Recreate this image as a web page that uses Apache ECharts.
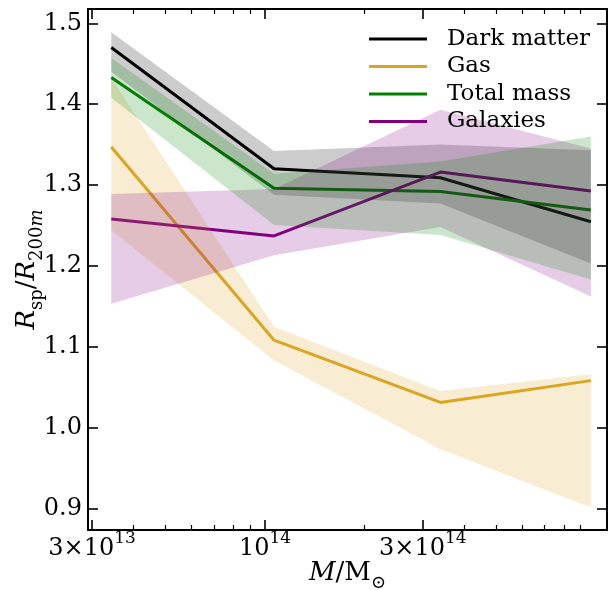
<!DOCTYPE html>
<html><head><meta charset="utf-8">
<script src="https://cdn.jsdelivr.net/npm/echarts@6/dist/echarts.min.js"></script>
<style>html,body{margin:0;padding:0;background:#fff}#chart{width:612px;height:590px}</style>
</head><body><div id="chart"></div>
<script>
// ---- data ----
const massBins   = [3.43e13, 1.065e14, 3.39e14, 9.66e14];
const dmMedian   = [1.470, 1.320, 1.309, 1.2545];
const dmLow      = [1.440, 1.288, 1.277, 1.203];
const dmHigh     = [1.489, 1.342, 1.350, 1.343];
const gasMedian  = [1.347, 1.108, 1.031, 1.058];
const gasLow     = [1.244, 1.083, 0.973, 0.901];
const gasHigh    = [1.432, 1.1247, 1.045, 1.066];
const totMedian  = [1.433, 1.296, 1.292, 1.269];
const totLow     = [1.408, 1.2505, 1.238, 1.183];
const totHigh    = [1.457, 1.314, 1.329, 1.360];
const galMedian  = [1.258, 1.237, 1.316, 1.2925];
const galLow     = [1.153, 1.213, 1.248, 1.162];
const galHigh    = [1.289, 1.295, 1.393, 1.345];
const seriesNames = ['Dark matter', 'Gas', 'Total mass', 'Galaxies'];

const xMajorTicks  = [3e13, 1e14, 3e14];
const xMajorLabels = ['{b|3×10}{sup|13}', '{b|10}{sup|14}', '{b|3×10}{sup|14}'];
const xMinorTicks  = [4e13, 5e13, 6e13, 7e13, 8e13, 9e13, 2e14, 4e14, 5e14, 6e14, 7e14, 8e14, 9e14];
const yTicks       = [0.9, 1.0, 1.1, 1.2, 1.3, 1.4, 1.5];
const xRange = [2.917e13, 1.081e15];
const yRange = [0.8732, 1.5177];

// ---- build ----
const lg = Math.log10;
const FONT = 'DejaVu Serif';
const colors = ['#000000', '#DAA520', '#008000', '#800080'];
const bandFill = ['rgba(0,0,0,0.2)', 'rgba(218,165,32,0.2)', 'rgba(0,128,0,0.2)', 'rgba(128,0,128,0.2)'];
const medians = [dmMedian, gasMedian, totMedian, galMedian];
const lows = [dmLow, gasLow, totLow, galLow];
const highs = [dmHigh, gasHigh, totHigh, galHigh];
const bandOrder = [0, 1, 3, 2];
const lx = massBins.map(lg);

function xAxisDef(pos, ticks, len, labels) {
  return {
    type: 'value', position: pos, min: lg(xRange[0]), max: lg(xRange[1]),
    axisLine: { show: true, onZero: false, lineStyle: { color: '#000', width: 2 } },
    axisTick: { show: true, inside: true, length: len, customValues: ticks.map(lg),
                lineStyle: { color: '#000', width: len > 6 ? 1.6 : 1.2 } },
    axisLabel: labels ? {
      show: true, margin: 0, customValues: xMajorTicks.map(lg),
      formatter: function (v) {
        let best = 0, bd = Infinity;
        xMajorTicks.forEach(function (t, i) { const d = Math.abs(lg(t) - v); if (d < bd) { bd = d; best = i; } });
        return xMajorLabels[best];
      },
      rich: {
        b: { fontFamily: FONT, fontSize: 24, lineHeight: 38, color: '#000' },
        sup: { fontFamily: FONT, fontSize: 17, verticalAlign: 'top', color: '#000' }
      }
    } : { show: false },
    splitLine: { show: false }
  };
}
function yAxisDef(pos, labels) {
  return {
    type: 'value', position: pos, min: yRange[0], max: yRange[1],
    axisLine: { show: true, onZero: false, lineStyle: { color: '#000', width: 2 } },
    axisTick: { show: true, inside: true, length: 10, customValues: yTicks, lineStyle: { color: '#000', width: 1.6 } },
    axisLabel: labels ? { show: true, margin: 6, customValues: yTicks, fontFamily: FONT, fontSize: 24, color: '#000',
                          formatter: function (v) { return v.toFixed(1); } } : { show: false },
    splitLine: { show: false }
  };
}

const xAxes = [
  xAxisDef('bottom', xMajorTicks, 10, true),
  xAxisDef('bottom', xMinorTicks, 5, false),
  xAxisDef('top', xMajorTicks, 10, false),
  xAxisDef('top', xMinorTicks, 5, false)
];
Object.assign(xAxes[0], {
  name: '{i|M}{n|/M}{sub|⊙}', nameLocation: 'middle', nameGap: 24, nameMoveOverlap: false,
  nameTextStyle: { rich: {
    i: { fontFamily: FONT, fontStyle: 'italic', fontSize: 26, lineHeight: 38, color: '#000' },
    n: { fontFamily: FONT, fontSize: 26, lineHeight: 38, color: '#000' },
    sub: { fontFamily: FONT, fontSize: 18, verticalAlign: 'bottom', color: '#000' }
  } }
});
const yAxes = [yAxisDef('left', true), yAxisDef('right', false)];
Object.assign(yAxes[0], {
  name: '{i|R}{sub|sp}{n|/}{i|R}{sub|200}{subi|m}', nameLocation: 'middle', nameGap: 42, nameRotate: 90, nameMoveOverlap: false,
  nameTextStyle: { rich: {
    i: { fontFamily: FONT, fontStyle: 'italic', fontSize: 26, lineHeight: 38, color: '#000' },
    n: { fontFamily: FONT, fontSize: 26, lineHeight: 38, color: '#000' },
    sub: { fontFamily: FONT, fontSize: 18, verticalAlign: 'bottom', color: '#000' },
    subi: { fontFamily: FONT, fontStyle: 'italic', fontSize: 18, verticalAlign: 'bottom', color: '#000' }
  } }
});

const series = [];
for (let k = 0; k < 4; k++) {
  series.push({
    type: 'line', name: seriesNames[k], xAxisIndex: 0, yAxisIndex: 0, z: 1,
    symbol: 'none', silent: true, animation: false,
    itemStyle: { color: colors[k] },
    lineStyle: { color: colors[k], width: 3 },
    data: lx.map(function (x, i) { return [x, medians[k][i]]; })
  });
}
bandOrder.forEach(function (k) {
  const lo = lows[k], hi = highs[k], fill = bandFill[k];
  series.push({
    type: 'custom', name: seriesNames[k] + ' band', silent: true, z: 2,
    xAxisIndex: 0, yAxisIndex: 0,
    data: [[lx[0], lo[0]]],
    renderItem: function (params, api) {
      const pts = [];
      for (let i = 0; i < lx.length; i++) pts.push(api.coord([lx[i], hi[i]]));
      for (let i = lx.length - 1; i >= 0; i--) pts.push(api.coord([lx[i], lo[i]]));
      return { type: 'polygon', shape: { points: pts }, style: { fill: fill } };
    }
  });
});

const chart = echarts.init(document.getElementById('chart'), null, { renderer: 'canvas' });
chart.setOption({
  animation: false,
  backgroundColor: '#fff',
  grid: { left: 88, right: 5, top: 9, bottom: 60, containLabel: false, outerBoundsMode: 'none' },
  xAxis: xAxes,
  yAxis: yAxes,
  legend: {
    orient: 'vertical', left: 364, top: 21, icon: 'rect', itemWidth: 58, itemHeight: 3, itemGap: 1.5, z: 5,
    selectedMode: false, data: seriesNames,
    textStyle: { fontFamily: FONT, fontSize: 23, color: '#000', lineHeight: 26, padding: [0, 0, 0, 15] }
  },
  series: series
});
</script></body></html>
